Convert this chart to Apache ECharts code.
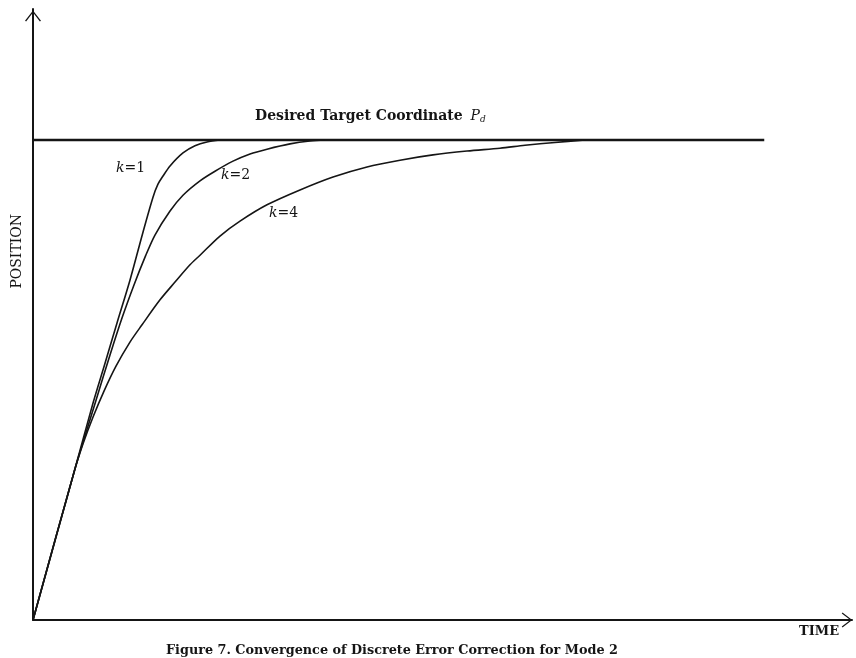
<!DOCTYPE html>
<html>
<head>
<meta charset="utf-8">
<script src="https://cdn.jsdelivr.net/npm/echarts@6/dist/echarts.min.js"></script>
<style>
  html, body { margin: 0; padding: 0; background: #fff; }
  #chart { width: 856px; height: 658px; }
</style>
</head>
<body>
<div id="chart"></div>
<script>
// Time is in arbitrary units (target reached within 0..100); position is normalised so P_d = 1.
const targetLine = [[0, 1], [100, 1]];

const curveK1 = [
  [0, 0], [5.61, 0.308], [8.21, 0.452], [9.85, 0.535], [11.49, 0.619],
  [13.26, 0.708], [15.04, 0.808], [16.41, 0.881], [17.09, 0.908],
  [17.78, 0.925], [18.74, 0.946], [20.51, 0.973], [22.15, 0.988],
  [23.79, 0.996], [25.57, 1.0]
];

const curveK2 = [
  [0, 0], [5.61, 0.308], [8.62, 0.458], [10.53, 0.552], [12.17, 0.629],
  [13.81, 0.698], [15.32, 0.756], [16.68, 0.802], [18.74, 0.852],
  [20.51, 0.885], [22.84, 0.915], [24.89, 0.935], [27.35, 0.956],
  [29.68, 0.971], [32.0, 0.981], [35.15, 0.992], [37.88, 0.998],
  [39.93, 1.0]
];

const curveK4 = [
  [0, 0], [5.61, 0.308], [6.84, 0.367], [8.21, 0.423], [9.71, 0.477],
  [11.35, 0.529], [13.26, 0.579], [14.91, 0.615], [17.37, 0.667],
  [19.42, 0.704], [21.47, 0.740], [22.84, 0.760], [25.57, 0.800],
  [28.31, 0.831], [32.0, 0.865], [36.51, 0.896], [41.03, 0.923],
  [45.68, 0.944], [50.19, 0.958], [54.70, 0.969], [59.35, 0.977],
  [63.86, 0.983], [67.28, 0.989], [71.38, 0.995], [75.49, 1.0]
];

const curveNames = ['k=1', 'k=2', 'k=4'];

const ink = '#151515';
const serif = '"DejaVu Serif", "Liberation Serif", serif';
// open chevron used for the axis arrow heads
const chevron = 'path://M10,0 L20,13 L18.6,14 L10,2.6 L1.4,14 L0,13 Z';

const chart = echarts.init(document.getElementById('chart'));

function curve(name, data, width) {
  return {
    name: name,
    type: 'line',
    data: data,
    smooth: 0.3,
    symbol: 'none',
    lineStyle: { color: ink, width: width },
    animation: false
  };
}

function kLabel(value, left, top) {
  return {
    type: 'text',
    left: left,
    top: top,
    style: {
      text: '{k|k}{v|=' + value + '}',
      rich: {
        k: { fontFamily: serif, fontStyle: 'italic', fontSize: 14, fill: ink },
        v: { fontFamily: serif, fontSize: 14, fill: ink }
      }
    }
  };
}

chart.setOption({
  backgroundColor: '#ffffff',
  animation: false,
  grid: { left: 33, right: 4, top: 9, bottom: 38 },
  xAxis: {
    type: 'value',
    min: 0,
    max: 112,
    axisLine: {
      show: true,
      onZero: false,
      symbol: ['none', chevron],
      symbolSize: [15, 11],
      symbolOffset: [0, -5],
      lineStyle: { color: ink, width: 2 }
    },
    axisTick: { show: false },
    axisLabel: { show: false },
    splitLine: { show: false }
  },
  yAxis: {
    type: 'value',
    min: 0,
    max: 1.273,
    axisLine: {
      show: true,
      onZero: false,
      symbol: ['none', chevron],
      symbolSize: [16, 14],
      symbolOffset: [0, -7],
      lineStyle: { color: ink, width: 2 }
    },
    axisTick: { show: false },
    axisLabel: { show: false },
    splitLine: { show: false }
  },
  series: [
    curve('P_d', targetLine, 2.4),
    curve(curveNames[0], curveK1, 1.6),
    curve(curveNames[1], curveK2, 1.6),
    curve(curveNames[2], curveK4, 1.6)
  ],
  graphic: [
    {
      type: 'text',
      left: 255,
      top: 109,
      style: {
        text: 'Desired Target Coordinate {p|P}{d|d}',
        fontFamily: serif,
        fontWeight: 'bold',
        fontSize: 14,
        fill: ink,
        rich: {
          p: { fontFamily: serif, fontStyle: 'italic', fontSize: 14, fill: ink, padding: [0, 0, 0, 3] },
          d: { fontFamily: serif, fontStyle: 'italic', fontSize: 9, fill: ink, verticalAlign: 'bottom', padding: [7, 0, 0, 0] }
        }
      }
    },
    kLabel('1', 116, 161),
    kLabel('2', 221, 168),
    kLabel('4', 269, 206),
    {
      type: 'text',
      left: 10,
      top: 214,
      rotation: Math.PI / 2,
      style: {
        text: 'POSITION',
        fontFamily: serif,
        fontSize: 14,
        fill: ink
      }
    },
    {
      type: 'text',
      left: 799,
      top: 625,
      style: {
        text: 'TIME',
        fontFamily: serif,
        fontWeight: 'bold',
        fontSize: 13,
        fill: ink
      }
    },
    {
      type: 'text',
      left: 166,
      top: 644,
      style: {
        text: 'Figure 7. Convergence of Discrete Error Correction for Mode 2',
        fontFamily: serif,
        fontWeight: 'bold',
        fontSize: 12.8,
        fill: ink
      }
    }
  ]
});
</script>
</body>
</html>
